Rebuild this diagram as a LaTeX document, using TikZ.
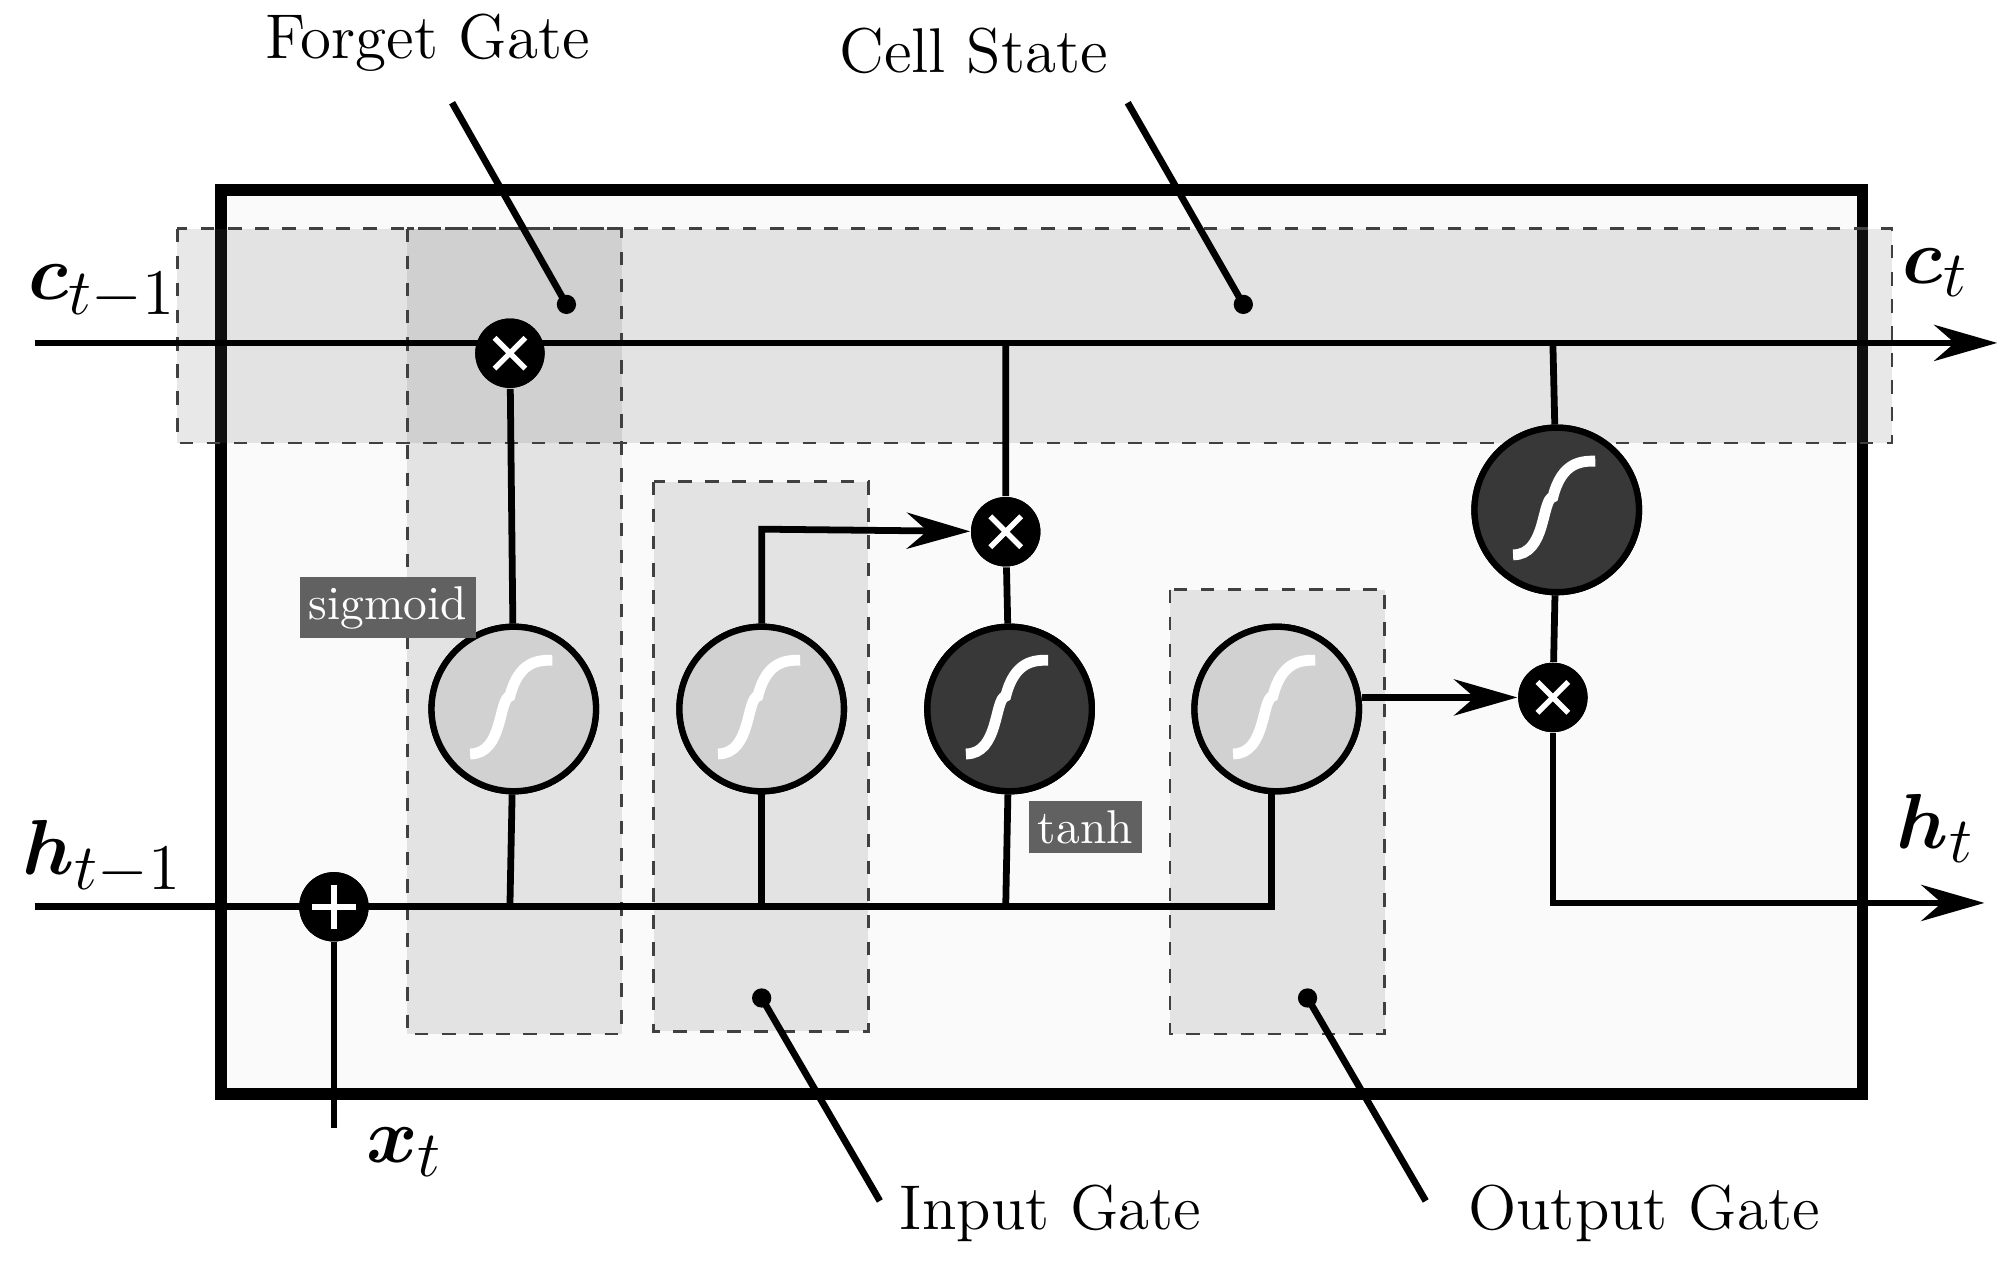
\documentclass[tikz,border=0pt]{standalone}
\usepackage{amsmath,bm}
\usetikzlibrary{arrows.meta}
\begin{document}
\begin{tikzpicture}[x=0.01cm,y=-0.01cm,
 ln/.style={line width=1.5pt},
 gate/.style={draw=black!75,dashed,line width=0.6pt,fill=black!60,fill opacity=0.15},
 op/.style={circle,fill=black,minimum size=0.54cm,inner sep=0},
 sig/.style={circle,draw=black,line width=1.4pt,minimum size=1.28cm,inner sep=0},
 lab/.style={font=\fontsize{14}{16}\selectfont},
 tag/.style={fill=black!62,text=white,font=\fontsize{10.5}{12}\selectfont,inner sep=2pt},
 arr/.style={ln,-{Stealth[length=14pt,width=8pt]}},
 dotc/.style={circle,fill=black,minimum size=0.15cm,inner sep=0}]
\useasboundingbox (0,0) rectangle (1568,983);
\newcommand{\scurve}[1]{\draw[white,line width=2.4pt] ([shift={(-34,35)}]#1.center) .. controls ([shift={(-8,35)}]#1.center) and ([shift={(-12,-8)}]#1.center) .. ([shift={(-3,-10)}]#1.center) .. controls ([shift={(4,-38)}]#1.center) and ([shift={(20,-38)}]#1.center) .. ([shift={(30,-38)}]#1.center);}
\draw[line width=2.6pt,fill=black!2] (172,148) rectangle (1450,852);
% gate regions
\fill[gate] (138,178) rectangle (1473,345);
\fill[gate] (317,178) rectangle (484,805);
\fill[gate] (509,375) rectangle (676,803);
\fill[gate] (911,459) rectangle (1078,805);
\draw[gate,fill opacity=0] (138,178) rectangle (1473,345) (317,178) rectangle (484,805) (509,375) rectangle (676,803) (911,459) rectangle (1078,805);
% nodes
\node[op] (fx) at (397,275) {};
\node[op] (ix) at (783,414) {};
\node[op] (ox) at (1209,543) {};
\node[op] (pl) at (260,706) {};
\node[sig,fill=black!18] (fs) at (400,552) {};
\node[sig,fill=black!18] (is) at (593,552) {};
\node[sig,fill=black!78] (it) at (786,552) {};
\node[sig,fill=black!18] (os) at (994,552) {};
\node[sig,fill=black!78] (ct) at (1212,397) {};
\coordinate (cin) at (27,267); \coordinate (cout) at (1555,267);
\coordinate (hin) at (27,706); \coordinate (hout) at (1545,703);
\coordinate (xin) at (260,878);
% lines
\draw[arr] (cin) -- (cout);
\draw[ln] (hin) -- (990,706) -- (990,600);
\draw[ln] (xin) -- (pl);
\draw[ln] (fx) -- (fs); \draw[ln] (397,706) -- (fs);
\draw[ln] (593,706) -- (is);
\draw[arr] (is.north) -- (593,412) -- (ix);
\draw[ln] (783,267) -- (ix) -- (it);
\draw[ln] (783,706) -- (it);
\draw[arr] (os.east|-ox) -- (ox);
\draw[ln] (1209,267) -- (ct) -- (ox);
\draw[arr] (ox) -- (1209,703) -- (hout);
% nodes on top
\foreach \n in {fx,ix,ox}{\node[op] at (\n) {}; \draw[white,line width=1.2pt] ([shift={(-12,-12)}]\n.center) -- ([shift={(12,12)}]\n.center) ([shift={(-12,12)}]\n.center) -- ([shift={(12,-12)}]\n.center);}
\node[op] at (pl) {}; \draw[white,line width=1.2pt] ([shift={(-17,0)}]pl.center) -- ([shift={(17,0)}]pl.center) ([shift={(0,-17)}]pl.center) -- ([shift={(0,17)}]pl.center);
\node[sig,fill=black!18] at (fs) {};
\node[sig,fill=black!18] at (is) {};
\node[sig,fill=black!78] at (it) {};
\node[sig,fill=black!18] at (os) {};
\node[sig,fill=black!78] at (ct) {};
\foreach \n in {fs,is,it,os,ct}{\scurve{\n}}
% tags
\node[tag] (tsig) at (302,473) {sigmoid};
\node[tag] (ttanh) at (845,644) {tanh};
% io labels
\node[font=\fontsize{19}{20}\selectfont] (lc0) at (80,228) {$\bm{c}_{t-1}$};
\node[font=\fontsize{19}{20}\selectfont] (lc1) at (1507,212) {$\bm{c}_{t}$};
\node[font=\fontsize{19}{20}\selectfont] (lh0) at (80,668) {$\bm{h}_{t-1}$};
\node[font=\fontsize{19}{20}\selectfont] (lh1) at (1507,645) {$\bm{h}_{t}$};
\node[font=\fontsize{19}{20}\selectfont] (lx) at (315,897) {$\bm{x}_{t}$};
% callouts
\node[lab] (tf) at (333,33) {Forget Gate};
\node[lab] (tc) at (758,40) {Cell State};
\node[lab] (ti) at (818,945) {Input Gate};
\node[lab] (to) at (1280,945) {Output Gate};
\node[dotc] (df) at (441,237) {}; \node[dotc] (dc) at (968,237) {};
\node[dotc] (di) at (593,777) {}; \node[dotc] (do) at (1018,777) {};
\coordinate (af) at (352,80); \coordinate (ac) at (878,80);
\coordinate (ai) at (685,935); \coordinate (ao) at (1110,935);
\draw[ln] (af) -- (df.center); \draw[ln] (ac) -- (dc.center);
\draw[ln] (ai) -- (di.center); \draw[ln] (ao) -- (do.center);
\end{tikzpicture}
\end{document}
